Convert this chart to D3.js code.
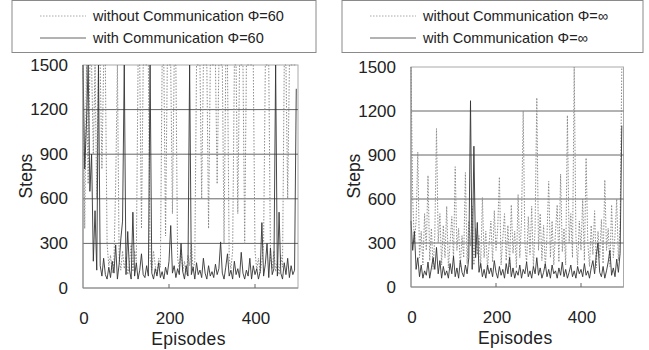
<!DOCTYPE html>
<html>
<head>
<meta charset="utf-8">
<script src="https://cdn.jsdelivr.net/npm/d3@7"></script>
<style>
  body { margin: 0; background: #fff; }
  svg { font-family: "Liberation Sans", Arial, sans-serif; }
</style>
</head>
<body>
<svg id="chart" width="649" height="350"></svg>
<script>
// episodes sampled every 4
const episodes = d3.range(0, 500, 4);
const yTicks = [0, 300, 600, 900, 1200, 1500];
const xTicks = [0, 200, 400];

// Phi = 60
const without60 = [
  1500, 400, 1500, 700, 1500, 1500, 900, 1500, 600, 1500,
  1500, 800, 1500, 1500, 300, 150, 220, 100, 180, 700,
  1500, 200, 120, 250, 130, 210, 90, 160, 300, 110,
  250, 180, 1500, 1500, 400, 1500, 1500, 1500, 1500, 200,
  120, 250, 150, 90, 200, 140, 1500, 1500, 350, 1500,
  1500, 1500, 500, 1500, 1500, 200, 130, 260, 110, 180,
  90, 220, 150, 300, 120, 180, 1500, 1500, 1500, 600,
  1500, 1500, 1500, 400, 1500, 1500, 1500, 1500, 700, 1500,
  1500, 1500, 300, 1500, 1500, 200, 130, 250, 1500, 1500,
  500, 1500, 1500, 1500, 300, 1500, 1500, 1500, 1500, 1500,
  250, 120, 200, 100, 180, 300, 1500, 1500, 1500, 200,
  130, 250, 110, 180, 90, 220, 140, 1500, 1500, 600,
  1500, 1500, 1500, 1500, 1500
];
const with60 = [
  1500, 800, 1100, 1500, 650, 900, 180, 520, 120, 1500,
  150, 80, 200, 90, 60, 140, 70, 180, 100, 290,
  60, 160, 330, 450, 1500, 90, 380, 120, 60, 510,
  80, 170, 60, 120, 230, 90, 70, 150, 80, 1500,
  100, 60, 130, 80, 170, 70, 110, 60, 140, 90,
  180, 420, 100, 150, 70, 130, 90, 300, 110, 60,
  150, 80, 1500, 90, 140, 60, 170, 90, 120, 70,
  200, 100, 60, 150, 80, 110, 70, 160, 90, 130,
  310, 100, 60, 140, 230, 80, 120, 60, 180, 90,
  130, 70, 240, 100, 60, 120, 80, 200, 60, 150,
  90, 130, 60, 110, 440, 80, 160, 300, 70, 270,
  90, 130, 1500, 80, 510, 100, 60, 170, 90, 200,
  70, 150, 90, 120, 1340
];

// Phi = infinity
const withoutInf = [
  1500, 600, 300, 450, 920, 200, 380, 150, 500, 250,
  760, 180, 400, 120, 350, 1080, 300, 500, 150, 420,
  200, 550, 130, 300, 480, 180, 820, 250, 400, 140,
  350, 200, 780, 160, 450, 280, 550, 150, 400, 220,
  350, 130, 610, 200, 380, 120, 300, 450, 170, 520,
  250, 400, 750, 150, 330, 500, 180, 420, 140, 560,
  230, 380, 130, 630, 200, 450, 1200, 300, 160, 480,
  220, 550, 140, 400, 1290, 250, 500, 180, 420, 130,
  350, 720, 200, 450, 150, 380, 560, 170, 770, 240,
  400, 150, 1170, 300, 500, 200, 1500, 350, 150, 450,
  250, 600, 180, 880, 300, 140, 420, 220, 520, 130,
  380, 200, 460, 160, 730, 250, 400, 140, 560, 200,
  350, 600, 180, 420, 1500
];
const withInf = [
  450, 250, 380, 120, 200, 70, 150, 60, 110, 80,
  170, 60, 130, 200, 120, 270, 90, 180, 60, 140,
  80, 110, 60, 160, 90, 210, 70, 130, 60, 180,
  100, 70, 150, 90, 200, 1270, 120, 960, 200, 440,
  100, 160, 70, 120, 60, 150, 90, 130, 70, 180,
  100, 60, 140, 80, 120, 60, 160, 90, 200, 70,
  130, 60, 110, 80, 150, 60, 120, 90, 170, 70,
  110, 60, 140, 90, 200, 80, 130, 60, 100, 160,
  70, 120, 60, 150, 90, 110, 60, 130, 80, 170,
  70, 120, 60, 100, 150, 70, 110, 60, 140, 90,
  120, 70, 160, 80, 110, 60, 130, 180, 90, 220,
  300, 100, 70, 140, 60, 110, 170, 250, 80, 130,
  70, 190, 100, 230, 1100
];

const svg = d3.select("#chart");

function drawPanel(opts) {
  const x = d3.scaleLinear().domain([0, 500]).range([opts.left, opts.right]);
  const y = d3.scaleLinear().domain([0, 1500]).range([opts.bottom, opts.top]);
  const g = svg.append("g");

  // legend box
  const lg = g.append("g");
  lg.append("rect")
      .attr("x", opts.legX).attr("y", 0.5)
      .attr("width", opts.legW).attr("height", 52)
      .attr("fill", "#fff").attr("stroke", "#8a8a8a").attr("stroke-width", 1);
  const rows = [
    {label: "without Communication Φ=" + opts.phi, dash: "1.5,1.5", color: "#a8a8a8", yy: 16},
    {label: "with Communication Φ=" + opts.phi, dash: null, color: "#666", yy: 38}
  ];
  rows.forEach(r => {
    lg.append("line")
        .attr("x1", opts.legX + 28).attr("x2", opts.legX + 74)
        .attr("y1", r.yy).attr("y2", r.yy)
        .attr("stroke", r.color).attr("stroke-width", 1)
        .attr("stroke-dasharray", r.dash);
    lg.append("text")
        .attr("x", opts.legX + 81).attr("y", r.yy)
        .attr("dominant-baseline", "central")
        .attr("font-size", 14.5).attr("fill", "#222")
        .text(r.label);
  });

  // frame + grid
  g.append("rect")
      .attr("x", opts.left).attr("y", opts.top)
      .attr("width", opts.right - opts.left).attr("height", opts.bottom - opts.top)
      .attr("fill", "none").attr("stroke", "#aaa").attr("stroke-width", 1);
  g.selectAll(".grid")
    .data(yTicks.filter(d => d > 0 && d < 1500))
    .enter().append("line")
      .attr("x1", opts.left).attr("x2", opts.right)
      .attr("y1", d => y(d)).attr("y2", d => y(d))
      .attr("stroke", "#666").attr("stroke-width", 1);

  const line = d3.line()
      .x((d, i) => x(episodes[i]))
      .y(d => y(d));

  g.append("path")
      .datum(opts.without)
      .attr("d", line)
      .attr("fill", "none")
      .attr("stroke", "#8c8c8c")
      .attr("stroke-width", 1)
      .attr("stroke-dasharray", "1.5,1.5");
  g.append("path")
      .datum(opts.withC)
      .attr("d", line)
      .attr("fill", "none")
      .attr("stroke", "#333")
      .attr("stroke-width", 0.9);

  // axis lines
  g.append("line")
      .attr("x1", opts.left).attr("x2", opts.left)
      .attr("y1", opts.top).attr("y2", opts.bottom)
      .attr("stroke", "#888");
  g.append("line")
      .attr("x1", opts.left).attr("x2", opts.right)
      .attr("y1", opts.bottom).attr("y2", opts.bottom)
      .attr("stroke", "#888");

  // x ticks (inward)
  g.selectAll(".xt")
    .data(xTicks.filter(d => d > 0))
    .enter().append("line")
      .attr("x1", d => x(d)).attr("x2", d => x(d))
      .attr("y1", opts.bottom).attr("y2", opts.bottom - 4)
      .attr("stroke", "#666");

  g.selectAll(".yl")
    .data(yTicks)
    .enter().append("text")
      .attr("x", opts.left - 15)
      .attr("y", d => y(d))
      .attr("text-anchor", "end")
      .attr("dominant-baseline", "central")
      .attr("font-size", 17).attr("fill", "#222")
      .text(d => d);

  g.selectAll(".xl")
    .data(xTicks)
    .enter().append("text")
      .attr("x", d => x(d) + 1)
      .attr("y", opts.bottom + 36)
      .attr("text-anchor", "middle")
      .attr("font-size", 17).attr("fill", "#222")
      .text(d => d);

  g.append("text")
      .attr("x", (opts.left + opts.right) / 2 - 2)
      .attr("y", opts.bottom + 57)
      .attr("text-anchor", "middle")
      .attr("font-size", 17.5).attr("fill", "#222")
      .attr("letter-spacing", 0.3)
      .text("Episodes");

  g.append("text")
      .attr("transform", "translate(" + (opts.left - 57) + "," + 176 + ") rotate(-90)")
      .attr("text-anchor", "middle")
      .attr("dominant-baseline", "central")
      .attr("font-size", 17.5).attr("fill", "#222")
      .text("Steps");
}

drawPanel({left: 83, right: 298, top: 65, bottom: 288, legX: 12, legW: 304,
           phi: "60", without: without60, withC: with60});
drawPanel({left: 411, right: 623.5, top: 67, bottom: 287, legX: 342, legW: 301,
           phi: "∞", without: withoutInf, withC: withInf});
</script>
</body>
</html>
